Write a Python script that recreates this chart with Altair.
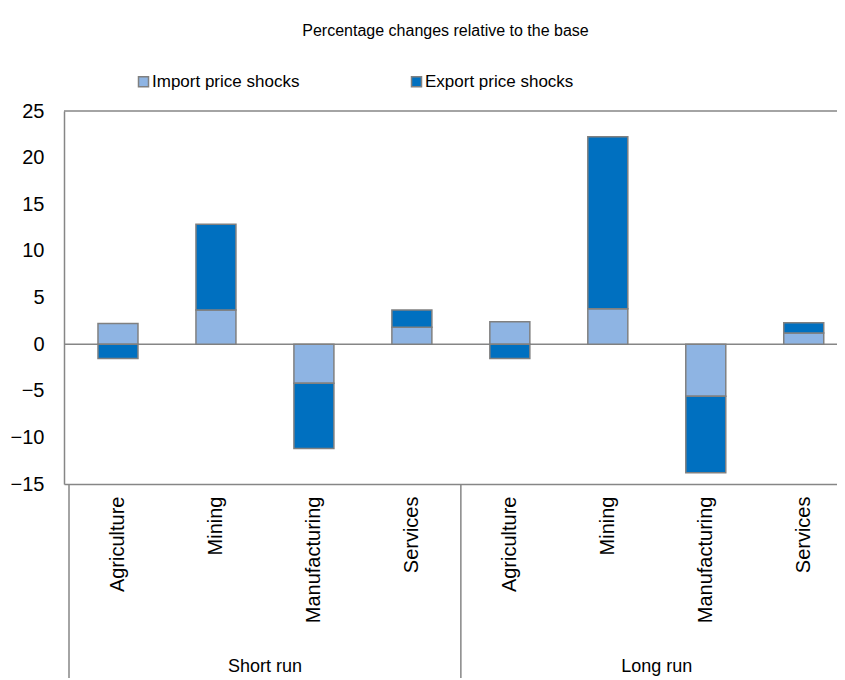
import json
import altair as alt
import pandas as pd

categories = ["Agriculture", "Mining", "Manufacturing", "Services"]
periods = ["Short run", "Long run"]
series = ["Import price shocks", "Export price shocks"]
colors = ["#8EB4E3", "#0070C0"]
import_sr = [2.2, 3.65, -4.2, 1.8]
export_sr = [-1.55, 9.2, -7.0, 1.85]
import_lr = [2.4, 3.8, -5.6, 1.2]
export_lr = [-1.55, 18.45, -8.2, 1.1]
y_ticks = [-15, -10, -5, 0, 5, 10, 15, 20, 25]

FONT = "Liberation Sans"
GRAY = "#868686"
PAD_L, PAD_T = 56, 103
SVG_W, SVG_H = 829, 670
W, H = SVG_W - PAD_L, 373
PAD_B = SVG_H - PAD_T - H
UNIT = 99.25  # pixels per category band

rows = []
for p_i, (period, imp, exp) in enumerate([(periods[0], import_sr, export_sr),
                                           (periods[1], import_lr, export_lr)]):
    for c_i, cat in enumerate(categories):
        pos = p_i * len(categories) + c_i + 0.5
        rows.append(dict(pos=pos, category=cat, period=period, series=series[0], order=0, value=imp[c_i]))
        rows.append(dict(pos=pos, category=cat, period=period, series=series[1], order=1, value=exp[c_i]))
df = pd.DataFrame(rows)

n_cat = len(categories) * len(periods)
x_scale = alt.Scale(domain=[0, W / UNIT], nice=False, zero=False)
y_scale = alt.Scale(domain=[-15, 25], nice=False)

label_list = json.dumps(categories * len(periods))
x_axis = alt.Axis(values=[i + 0.5 for i in range(n_cat)],
                  labelExpr=f"{label_list}[floor(datum.value)]",
                  labelAngle=270, labelFontSize=20, labelFont=FONT, labelColor="black",
                  labelPadding=12, ticks=False, grid=False, domain=True,
                  domainColor=GRAY, domainWidth=1.5, labelOverlap=False,
                  labelFlush=False, labelBound=False, labelLimit=400, title=None)
y_axis = alt.Axis(values=y_ticks, grid=True, gridColor="white", gridWidth=2,
                  domain=True, domainColor=GRAY, domainWidth=1.5, ticks=False,
                  labelFontSize=20, labelFont=FONT, labelColor="black",
                  labelPadding=20, title=None)

bars = alt.Chart(df).mark_bar(size=40, stroke="#808080", strokeWidth=1.5).encode(
    x=alt.X("pos:Q", scale=x_scale, axis=x_axis),
    y=alt.Y("value:Q", stack="zero", scale=y_scale, axis=y_axis),
    color=alt.Color("series:N", scale=alt.Scale(domain=series, range=colors),
                    legend=alt.Legend(orient="none", legendX=71, legendY=-38,
                                      direction="horizontal", title=None,
                                      labelFontSize=17, labelFont=FONT, labelColor="black",
                                      labelLimit=400,
                                      symbolType="square", symbolSize=100,
                                      symbolStrokeColor="#808080", symbolStrokeWidth=1.5,
                                      labelOffset=0, columnPadding=108, padding=0)),
    order=alt.Order("order:Q"),
)

ref_df = pd.DataFrame({"v": [0, 25]})
hlines = alt.Chart(ref_df).mark_rule(color=GRAY, strokeWidth=1.5).encode(
    y=alt.Y("v:Q", scale=y_scale, axis=y_axis),
)

div_df = pd.DataFrame({"pos": [0, len(categories)]})
dividers = alt.Chart(div_df).mark_rule(color=GRAY, strokeWidth=1.5).encode(
    x=alt.X("pos:Q", scale=x_scale, axis=x_axis),
    y=alt.value(H),
    y2=alt.value(H + PAD_B + 10),
)

grp_df = pd.DataFrame({"pos": [len(categories) / 2, len(categories) * 1.5], "label": periods})
group_labels = alt.Chart(grp_df).mark_text(fontSize=18, font=FONT, color="black",
                                           baseline="middle", align="center").encode(
    x=alt.X("pos:Q", scale=x_scale, axis=x_axis),
    y=alt.value(H + PAD_B - 11),
    text="label:N",
)

chart = alt.layer(hlines, bars, dividers, group_labels).properties(
    width=W, height=H,
    title=alt.TitleParams("Percentage changes relative to the base", fontSize=16,
                          font=FONT, fontWeight="normal", color="black",
                          anchor="middle", frame="group", dx=-5, offset=34),
    padding={"left": PAD_L, "top": PAD_T, "right": 0, "bottom": PAD_B},
    autosize=alt.AutoSizeParams(type="none"),
).configure_view(fill="#DCE6F2", stroke="transparent").configure(background="white")

chart.save("out.html", embed_options={"renderer": "svg", "actions": False})
